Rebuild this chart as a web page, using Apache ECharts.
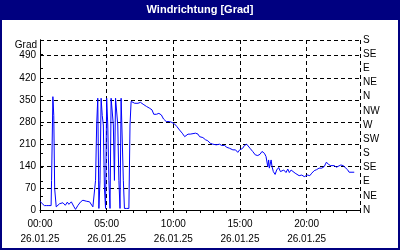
<!DOCTYPE html>
<html><head><meta charset="utf-8">
<script src="https://cdn.jsdelivr.net/npm/echarts@6/dist/echarts.min.js"></script>
<style>html,body{margin:0;padding:0;background:#fff}#c{width:400px;height:250px}</style>
</head><body><div id="c"></div>
<script>
const title = 'Windrichtung [Grad]';
const dateLabel = '26.01.25';
const leftTicks = [0, 70, 140, 210, 280, 350, 420, 490];
const compassLabels = ['N','NE','E','SE','S','SW','W','NW','N','NE','E','SE','S'];
// minutes after midnight
const minutes = [0,10,20,30,40,50,52,56,58,62,66,73,88,96,103,114,123,130,141,153,160,171,183,193,208,223,238,245,
 250,255,260,265,270,275,280,285,290,295,300,305,310,315,320,325,330,335,340,345,350,355,360,365,370,375,380,390,400,405,410,
 416,426,441,452,464,479,494,504,512,524,535,546,556,568,576,583,594,606,616,628,640,651,658,666,676,685,700,711,718,726,733,745,755,766,778,793,808,818,830,841,853,
 868,880,890,897,905,912,920,930,939,945,957,969,980,990,999,1010,1017,1025,1029,1032,1040,1044,1050,1058,1065,1074,1082,1089,1097,1107,1115,1122,1130,1139,1148,1156,1166,1178,1189,1196,1204,1214,1223,1234,1244,1256,1268,1279,1289,1298,1308,1316,1324,1334,1343,1354,1364,1373,1384,1391,1399,1414,1426];
const degrees = [28,20,14,14,14,14,94,270,360,300,68,10,20,15,23,15,25,18,26,10,2,15,26,31,28,26,10,10,
 94,270,355,5,94,355,300,270,68,5,355,270,94,5,355,360,270,94,355,360,270,94,5,355,350,94,5,5,5,270,345,
 345,339,339,342,336,329,323,318,304,304,307,302,289,281,286,281,278,273,265,254,244,233,236,241,241,244,244,241,233,230,230,223,220,212,209,207,209,205,205,199,196,
 191,191,183,190,184,196,205,209,207,196,186,175,173,177,186,180,170,138,159,133,159,138,122,113,127,135,122,117,127,119,130,119,127,122,117,111,109,111,106,103,111,109,117,125,128,133,133,138,152,145,141,138,141,136,141,143,141,136,128,120,120,120];
const timeLabels = {0:'00:00',300:'05:00',600:'10:00',900:'15:00',1200:'20:00'};

const data = minutes.map((m, i) => [m, degrees[i]]);
const font = 'Liberation Sans';
const chart = echarts.init(document.getElementById('c'), null, {renderer: 'canvas'});
chart.setOption({
  animation: false,
  backgroundColor: '#fff',
  textStyle: {fontFamily: font},
  grid: {left: 40, right: 40, top: 40, bottom: 40},
  graphic: [
    {type: 'rect', shape: {x: 0, y: 0, width: 400, height: 20}, style: {fill: '#000080'}, silent: true},
    {type: 'rect', shape: {x: 1, y: 1, width: 398, height: 248}, style: {fill: 'none', stroke: '#000080', lineWidth: 2}, silent: true},
    {type: 'text', left: 'center', top: 4, style: {text: title, fill: '#fff', font: 'bold 11px ' + font}},
    {type: 'text', right: 363, top: 40, style: {text: 'Grad', fill: '#000', font: '10px ' + font, textAlign: 'right'}}
  ],
  xAxis: [{
    type: 'value', min: 0, max: 1440, interval: 300,
    axisLine: {show: true, lineStyle: {color: '#000', width: 1}},
    axisTick: {show: false},
    axisLabel: {color: '#000', fontSize: 10, fontFamily: font, lineHeight: 15, margin: 7,
      formatter: v => timeLabels[v] !== undefined ? timeLabels[v] + '\n' + dateLabel : ''},
    splitLine: {show: true, lineStyle: {color: '#000', type: [4, 3], width: 1}}
  }, {
    type: 'value', min: 0, max: 1440, interval: 60, position: 'bottom',
    axisLine: {show: false},
    axisTick: {show: true, length: 3, inside: false, lineStyle: {color: '#000'}},
    axisLabel: {show: false}, splitLine: {show: false}
  }],
  yAxis: [{
    type: 'value', min: 0, max: 540, interval: 70, position: 'left',
    axisLine: {show: true, lineStyle: {color: '#000'}},
    axisTick: {show: false},
    axisLabel: {color: '#000', fontSize: 10, fontFamily: font, margin: 4,
      formatter: v => leftTicks.includes(v) ? String(v) : ''},
    splitLine: {show: true, lineStyle: {color: '#000', type: [4, 3], width: 1}}
  }, {
    type: 'value', min: 0, max: 540, interval: 45, position: 'right',
    axisLine: {show: true, lineStyle: {color: '#000'}},
    axisTick: {show: true, length: 3, lineStyle: {color: '#000'}},
    axisLabel: {color: '#000', fontSize: 10, fontFamily: font, margin: 3,
      formatter: v => compassLabels[Math.round(v / 45)] || ''},
    splitLine: {show: false}
  }],
  series: [{
    type: 'line', data: data, xAxisIndex: 0, yAxisIndex: 0,
    showSymbol: false, symbol: 'none',
    lineStyle: {color: '#0000ff', width: 1}
  }, {
    type: 'line', data: [], xAxisIndex: 1, yAxisIndex: 1
  }]
});
</script></body></html>
